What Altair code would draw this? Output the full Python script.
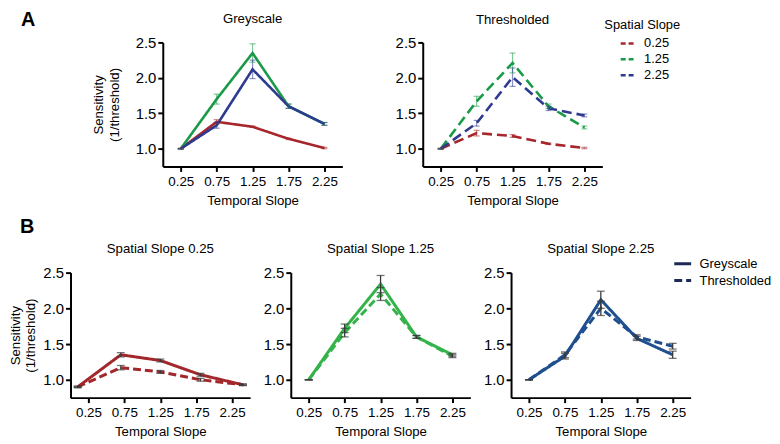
import altair as alt
import pandas as pd

FONT = "Liberation Sans"

# ---------------- data ----------------
temporal = [0.25, 0.75, 1.25, 1.75, 2.25]
spatial_labels = ["0.25", "1.25", "2.25"]
kinds = ["Greyscale", "Thresholded"]

# Panel A: Greyscale (solid) per spatial slope
a_grey = {
    "0.25": [1.00, 1.38, 1.31, 1.14, 1.01],
    "1.25": [1.00, 1.70, 2.35, 1.60, 1.35],
    "2.25": [1.00, 1.33, 2.12, 1.60, 1.35],
}
a_grey_err = {
    "0.25": [0.01, 0.03, 0.01, 0.01, 0.01],
    "1.25": [0.00, 0.07, 0.13, 0.03, 0.02],
    "2.25": [0.00, 0.04, 0.13, 0.03, 0.02],
}
# Panel A: Thresholded (dashed)
a_thr = {
    "0.25": [1.00, 1.22, 1.18, 1.07, 1.01],
    "1.25": [1.00, 1.67, 2.21, 1.60, 1.30],
    "2.25": [1.00, 1.36, 2.01, 1.57, 1.47],
}
a_thr_err = {
    "0.25": [0.01, 0.04, 0.02, 0.01, 0.01],
    "1.25": [0.00, 0.07, 0.14, 0.03, 0.02],
    "2.25": [0.00, 0.04, 0.13, 0.03, 0.02],
}

# Panel B
b1_x_plotted = [0.10, 0.70, 1.25, 1.81, 2.40]
b_grey_025 = [0.90, 1.35, 1.27, 1.07, 0.93]
b_grey_025_err = [0.01, 0.03, 0.02, 0.02, 0.01]
b_thr_025 = [0.90, 1.17, 1.11, 1.00, 0.93]
b_thr_025_err = [0.01, 0.03, 0.02, 0.02, 0.01]

b_grey_125 = [1.00, 1.72, 2.34, 1.60, 1.35]
b_grey_125_err = [0.00, 0.06, 0.12, 0.02, 0.02]
b_thr_125 = [1.00, 1.66, 2.20, 1.60, 1.33]
b_thr_125_err = [0.00, 0.06, 0.09, 0.02, 0.02]

b_grey_225 = [1.00, 1.33, 2.12, 1.58, 1.35]
b_grey_225_err = [0.00, 0.04, 0.12, 0.03, 0.05]
b_thr_225 = [1.00, 1.35, 2.00, 1.60, 1.47]
b_thr_225_err = [0.00, 0.04, 0.10, 0.03, 0.04]

x_ticks = temporal
y_ticks = [1.0, 1.5, 2.0, 2.5]

COL_A = ["#a6262b", "#1a9a48", "#2e3990"]
RED_B, GREEN_B, BLUE_B = "#a3282c", "#34b34a", "#1f4f8f"
ERR_B = "#3a3a3a"

YTITLE = ["Sensitivity", "(1/threshold)"]
W, HA, HB = 181, 125, 126


def xenc(field="t"):
    return alt.X(f"{field}:Q", scale=alt.Scale(domain=[0, 2.5], nice=False, zero=False),
                 axis=alt.Axis(values=x_ticks, format=".2f", title="Temporal Slope"))


def yenc(field, show_title, tpad):
    if show_title:
        ax = alt.Axis(values=y_ticks, format=".1f", title=YTITLE, titlePadding=tpad)
    else:
        ax = alt.Axis(values=y_ticks, format=".1f", title=None)
    return alt.Y(f"{field}:Q", scale=alt.Scale(domain=[0.75, 2.5], nice=False, zero=False), axis=ax)


def a_panel(vals, errs, title, dashed, show_ytitle, legend, toff, tpad=14):
    rows = []
    for s in spatial_labels:
        for t, v, e in zip(temporal, vals[s], errs[s]):
            rows.append({"t": t, "v": v, "lo": v - e, "hi": v + e, "ss": s})
    df = pd.DataFrame(rows)
    cscale = alt.Scale(domain=spatial_labels, range=COL_A)
    base = alt.Chart(df)
    lines = base.mark_line(strokeWidth=2.6, strokeDash=[10, 5] if dashed else [1, 0]).encode(
        x=xenc(), y=yenc("v", show_ytitle, tpad),
        color=alt.Color("ss:N", scale=cscale, legend=legend))
    err = base.mark_rule(strokeWidth=1.2, opacity=0.55).encode(
        x=xenc(), y=yenc("lo", show_ytitle, tpad), y2="hi:Q",
        color=alt.Color("ss:N", scale=cscale, legend=None))
    cap_lo = base.mark_tick(orient="horizontal", size=6, thickness=1.2, opacity=0.55).encode(
        x=xenc(), y=yenc("lo", show_ytitle, tpad), color=alt.Color("ss:N", scale=cscale, legend=None))
    cap_hi = base.mark_tick(orient="horizontal", size=6, thickness=1.2, opacity=0.55).encode(
        x=xenc(), y=yenc("hi", show_ytitle, tpad), color=alt.Color("ss:N", scale=cscale, legend=None))
    return alt.layer(lines, err, cap_lo, cap_hi).properties(
        width=W, height=HA, title=alt.TitleParams(title, offset=toff))


def b_panel(xs, grey, grey_err, thr, thr_err, color, title, show_ytitle, legend, toff, tpad=5):
    rows = []
    for kind, vals, errs in (("Greyscale", grey, grey_err), ("Thresholded", thr, thr_err)):
        for t, v, e in zip(xs, vals, errs):
            rows.append({"t": t, "v": v, "lo": v - e, "hi": v + e, "kind": kind})
    df = pd.DataFrame(rows)
    base = alt.Chart(df)
    dscale = alt.Scale(domain=kinds, range=[[1, 0], [8, 4]])
    lines = base.mark_line(color=color, strokeWidth=3).encode(
        x=xenc(), y=yenc("v", show_ytitle, tpad),
        strokeDash=alt.StrokeDash("kind:N", scale=dscale, legend=legend))
    err = base.mark_rule(color=ERR_B, strokeWidth=1.3).encode(
        x=xenc(), y=yenc("lo", show_ytitle, tpad), y2="hi:Q", detail="kind:N")
    cap_lo = base.mark_tick(orient="horizontal", color=ERR_B, size=8, thickness=1.3).encode(
        x=xenc(), y=yenc("lo", show_ytitle, tpad), detail="kind:N")
    cap_hi = base.mark_tick(orient="horizontal", color=ERR_B, size=8, thickness=1.3).encode(
        x=xenc(), y=yenc("hi", show_ytitle, tpad), detail="kind:N")
    return alt.layer(lines, err, cap_lo, cap_hi).properties(
        width=W, height=HB, title=alt.TitleParams(title, offset=toff))


legend_a = alt.Legend(title="Spatial Slope", orient="none", legendX=183, legendY=-24,
                      symbolType="stroke", symbolStrokeWidth=2.6, symbolDash=[5, 3],
                      symbolSize=225, symbolOffset=15, labelOffset=7, rowPadding=-2,
                      titlePadding=3, padding=0, labelFontSize=13, titleFontSize=13,
                      titleFontWeight="normal", labelFont=FONT, titleFont=FONT,
                      titleColor="black", labelColor="black")
legend_b = alt.Legend(title=None, orient="none", legendX=163, legendY=-19,
                      symbolType="stroke", symbolStrokeWidth=3, symbolStrokeColor="#1c2a55",
                      symbolSize=289, labelOffset=7, rowPadding=0, padding=0,
                      labelFontSize=13, labelFont=FONT, labelColor="black")

a1 = a_panel(a_grey, a_grey_err, "Greyscale", False, True, None, toff=10)
a2 = a_panel(a_thr, a_thr_err, "Thresholded", True, False, legend_a, toff=-8)

spacer_a = alt.Chart(pd.DataFrame({"z": [0]})).mark_point(opacity=0, size=0).encode(
    x=alt.value(0), y=alt.value(0)
).properties(width=1, height=10,
             title=alt.TitleParams("A", anchor="start", fontSize=20, fontWeight="bold",
                                   dx=-50, offset=13))

row_a = alt.hconcat(
    spacer_a,
    alt.hconcat(a1, a2, spacing=53).resolve_scale(color="independent"),
    spacing=20,
).resolve_scale(color="independent")

b1 = b_panel(b1_x_plotted, b_grey_025, b_grey_025_err, b_thr_025, b_thr_025_err,
             RED_B, "Spatial Slope 0.25", True, None, toff=10)
b2 = b_panel(temporal, b_grey_125, b_grey_125_err, b_thr_125, b_thr_125_err,
             GREEN_B, "Spatial Slope 1.25", False, None, toff=10)
b3 = b_panel(temporal, b_grey_225, b_grey_225_err, b_thr_225, b_thr_225_err,
             BLUE_B, "Spatial Slope 2.25", False, legend_b, toff=-2)

row_b = alt.hconcat(b1, b2, b3, spacing=13).resolve_scale(strokeDash="independent").properties(
    title=alt.TitleParams("B", anchor="start", fontSize=20, fontWeight="bold", dx=12, offset=6))

chart = alt.vconcat(row_a, row_b, spacing=9).properties(padding=0).configure(
    font=FONT
).configure_view(stroke=None).configure_axis(
    domainColor="black", domainWidth=2, tickColor="black", tickWidth=2, tickSize=5,
    labelColor="black", titleColor="black", titleFontWeight="normal", grid=False,
    labelFont=FONT, titleFont=FONT, titleFontSize=13.3, titleLineHeight=16
).configure_axisX(labelFontSize=13.5, labelPadding=3, titlePadding=6
).configure_axisY(labelFontSize=15, labelPadding=2
).configure_title(fontSize=13.3, fontWeight="normal", font=FONT, color="black")

chart.save("out.html", embed_options={"renderer": "svg", "actions": False})
